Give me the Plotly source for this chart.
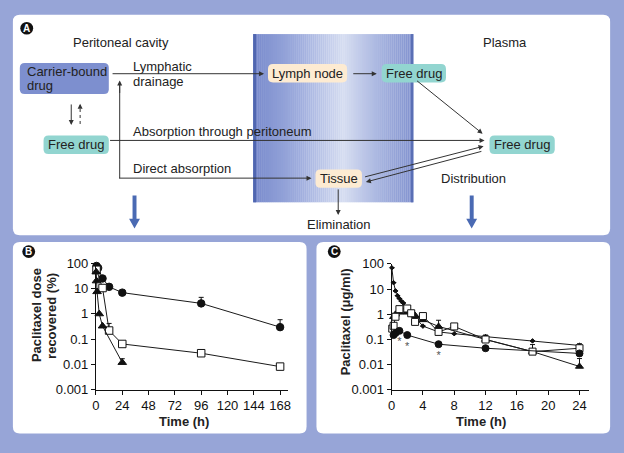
import plotly.graph_objects as go

W, H = 624, 453
FONT = "Liberation Sans, Arial, Helvetica, sans-serif"

# ---------------- data: panel B (dose recovered, %) ----------------
b_circle_t = [0.5, 2, 6, 12, 24, 96, 168]
b_circle_v = [78, 65, 25, 11.7, 6.9, 2.6, 0.3]
b_circle_err = [0, 0, 0, 0, 0, 1.9, 0.29]
b_square_t = [0.5, 6, 12, 24, 96, 168]
b_square_v = [55, 10.5, 0.22, 0.065, 0.028, 0.0083]
b_square_err = [0, 0, 0.2, 0, 0.006, 0]
b_tri_t = [0.25, 0.5, 1, 3, 6, 24]
b_tri_v = [45, 20, 7.5, 1.0, 0.33, 0.012]
b_tri_err = [0, 0, 0, 0, 0, 0.005]
b_xticks = [0, 24, 48, 72, 96, 120, 144, 168]

# ---------------- data: panel C (plasma, ug/ml) ----------------
c_dot_t = [0.03, 0.25, 0.5, 0.75, 1, 1.25, 1.5, 2, 3, 4, 6, 8, 12, 18, 24]
c_dot_v = [70, 18, 8.5, 5.5, 4.2, 3.3, 2.8, 1.5, 0.75, 0.34, 0.2, 0.17, 0.13, 0.088, 0.058]
c_dot_err = [0, 0, 0, 0, 0, 0, 0, 0, 0, 0, 0, 0, 0.02, 0, 0.01]
c_sq_t = [0.083, 0.25, 0.5, 1, 2, 2.5, 3, 4, 6, 8, 12, 18, 24]
c_sq_v = [0.27, 0.35, 0.8, 1.6, 1.7, 1.1, 0.5, 0.85, 0.2, 0.33, 0.1, 0.033, 0.045]
c_sq_err = [0, 0, 0, 0, 0, 0, 0, 0, 0, 0, 0.04, 0.03, 0]
c_tri_t = [0.25, 0.5, 1, 2, 3, 4, 6, 12, 18, 24]
c_tri_v = [0.8, 1.0, 1.2, 1.2, 0.9, 0.6, 0.33, 0.1, 0.033, 0.0085]
c_tri_err = [0, 0, 0, 0, 0, 0, 0.25, 0, 0, 0.009]
c_circ_t = [0.25, 0.5, 1, 2, 6, 12, 24]
c_circ_v = [0.15, 0.18, 0.22, 0.15, 0.065, 0.045, 0.028]
c_star_t = [1, 2, 6]
c_star_v = [0.075, 0.048, 0.021]
c_xticks = [0, 4, 8, 12, 16, 20, 24]

y_tickvals = [0.001, 0.01, 0.1, 1, 10, 100]
y_ticktext = ["0.001", "0.01", "0.1", "1", "10", "100"]

# ---------------- helpers (pixel -> paper) ----------------
def px(x):
    return x / W

def py(y):
    return 1 - y / H

shapes = []
annotations = []

def rrect(x0, y0, x1, y1, r, fill, layer="below"):
    def P(x, y):
        return f"{px(x):.5f},{py(y):.5f}"
    path = (f"M {P(x0 + r, y0)} L {P(x1 - r, y0)} Q {P(x1, y0)} {P(x1, y0 + r)} "
            f"L {P(x1, y1 - r)} Q {P(x1, y1)} {P(x1 - r, y1)} "
            f"L {P(x0 + r, y1)} Q {P(x0, y1)} {P(x0, y1 - r)} "
            f"L {P(x0, y0 + r)} Q {P(x0, y0)} {P(x0 + r, y0)} Z")
    shapes.append(dict(type="path", xref="paper", yref="paper", path=path,
                       fillcolor=fill, line=dict(width=0), layer=layer))

def poly(points, fill, layer="above"):
    path = "M " + " L ".join(f"{px(x):.5f},{py(y):.5f}" for x, y in points) + " Z"
    shapes.append(dict(type="path", xref="paper", yref="paper", path=path,
                       fillcolor=fill, line=dict(width=0), layer=layer))

def line(x0, y0, x1, y1, color="#333333", width=1, dash="solid"):
    shapes.append(dict(type="line", xref="paper", yref="paper",
                       x0=px(x0), y0=py(y0), x1=px(x1), y1=py(y1),
                       line=dict(color=color, width=width, dash=dash), layer="above"))

def arrow(x0, y0, x1, y1, color="#333333", width=1, size=1.0):
    annotations.append(dict(x=px(x1), y=py(y1), xref="paper", yref="paper",
                            ax=x0 - x1, ay=y0 - y1, axref="pixel", ayref="pixel",
                            text="", showarrow=True, arrowhead=2, arrowsize=size,
                            arrowwidth=width, arrowcolor=color, standoff=0, startstandoff=0))

def text(x, y, s, size=13, anchor="center", color="#222222", bold=False, angle=0):
    if bold:
        s = f"<b>{s}</b>"
    annotations.append(dict(x=px(x), y=py(y), xref="paper", yref="paper", text=s,
                            showarrow=False, xanchor=anchor, yanchor="middle",
                            textangle=angle, font=dict(size=size, color=color, family=FONT)))

def label_circle(x, y, letter):
    r = 6.5
    shapes.append(dict(type="circle", xref="paper", yref="paper",
                       x0=px(x - r), x1=px(x + r), y0=py(y + r), y1=py(y - r),
                       fillcolor="#111111", line=dict(width=0), layer="above"))
    annotations.append(dict(x=px(x), y=py(y), xref="paper", yref="paper",
                            text=f"<b>{letter}</b>", showarrow=False, xanchor="center",
                            yanchor="middle", font=dict(size=10, color="white", family=FONT)))

# ---------------- panels ----------------
rrect(9, 8, 613, 236, 7, "white")
rrect(9, 243, 306, 441, 7, "white")
rrect(316, 243, 613, 441, 7, "white")

# ---------------- membrane gradient ----------------
stops = [(252, (120, 138, 204)), (300, (160, 174, 222)), (343, (214, 221, 241)),
         (380, (168, 181, 224)), (414, (128, 145, 206))]

def grad(x):
    for (xa, ca), (xb, cb) in zip(stops[:-1], stops[1:]):
        if xa <= x <= xb:
            f = (x - xa) / (xb - xa)
            return tuple(round(ca[i] + f * (cb[i] - ca[i])) for i in range(3))
    return stops[-1][1]

x = 252.0
while x < 414:
    c = grad(x + 1)
    shapes.append(dict(type="rect", xref="paper", yref="paper",
                       x0=px(x), x1=px(min(x + 2.2, 414)), y0=py(202), y1=py(28),
                       fillcolor=f"rgb{c}", line=dict(width=0), layer="below"))
    x += 2
shapes.append(dict(type="rect", xref="paper", yref="paper", x0=px(252), x1=px(255),
                   y0=py(202), y1=py(28), fillcolor="#5066b0", line=dict(width=0), layer="below"))
shapes.append(dict(type="rect", xref="paper", yref="paper", x0=px(411.5), x1=px(414),
                   y0=py(202), y1=py(28), fillcolor="#5a6fb5", line=dict(width=0), layer="below"))

# ---------------- boxes ----------------
BLUE_BOX = "#7d8fcf"
TEAL = "#92d5d0"
PEACH = "#fdebd2"
rrect(16, 58, 106, 90, 5, BLUE_BOX, layer="above")
rrect(40, 133, 106, 152, 5, TEAL, layer="above")
rrect(267, 59, 347, 78, 5, PEACH, layer="above")
rrect(382, 59, 447, 78, 5, TEAL, layer="above")
rrect(491, 133, 557, 152, 5, TEAL, layer="above")
rrect(315, 168, 362, 187, 5, PEACH, layer="above")

text(21, 66.5, "Carrier-bound", anchor="left")
text(21, 81, "drug", anchor="left")
text(73, 142.5, "Free drug")
text(307, 68.5, "Lymph node")
text(414.5, 68.5, "Free drug")
text(524, 142.5, "Free drug")
text(338.5, 177.5, "Tissue")

text(118, 37, "Peritoneal cavity")
text(507, 37, "Plasma")
text(128, 62, "Lymphatic", anchor="left")
text(128, 77, "drainage", anchor="left")
text(128, 129, "Absorption through peritoneum", anchor="left")
text(128, 167, "Direct absorption", anchor="left")
text(475, 177, "Distribution")
text(339, 225, "Elimination")

# ---------------- connectors ----------------
arrow(110, 69, 263, 69)
arrow(352, 69, 377, 69)
line(117, 177, 117, 80)
arrow(117, 90, 117, 76)
arrow(117, 177, 311, 177)
arrow(110, 138, 486, 138)
arrow(417, 77, 484, 131)
arrow(365, 175, 485, 144)
arrow(483, 150, 366, 181)
arrow(338, 188, 338, 215)
arrow(68, 100, 68, 122)
line(77, 121, 77, 104, dash="dot")
arrow(77, 106, 77, 100)

# ---------------- big blue arrows ----------------
ARROW_BLUE = "#4a6ab3"
for cx in (132, 473):
    poly([(cx - 2, 195), (cx + 2, 195), (cx + 2, 219), (cx + 5.5, 219), (cx, 229),
          (cx - 5.5, 219), (cx - 2, 219)], ARROW_BLUE)

label_circle(23, 22, "A")
label_circle(25, 253, "B")
label_circle(334, 253, "C")

# ---------------- traces ----------------
LINE = dict(color="#1a1a1a", width=1)
fig = go.Figure()

def series(xs, ys, err, symbol, size, xa, ya, filled=True):
    fig.add_trace(go.Scatter(
        x=xs, y=ys, mode="lines+markers", xaxis=xa, yaxis=ya, line=LINE,
        cliponaxis=False, showlegend=False,
        marker=dict(symbol=symbol, size=size, color="#111111" if filled else "white",
                    line=dict(color="#111111", width=1)),
        error_y=dict(type="data", symmetric=False, array=err, arrayminus=[0] * len(err),
                     color="#111111", thickness=1, width=2.5)))

series(b_circle_t, b_circle_v, b_circle_err, "circle", 7.5, "x", "y")
series(b_square_t, b_square_v, b_square_err, "square", 7.5, "x", "y", filled=False)
series(b_tri_t, b_tri_v, b_tri_err, "triangle-up", 7.5, "x", "y")

series(c_dot_t, c_dot_v, c_dot_err, "diamond", 3.5, "x2", "y2")
series(c_tri_t, c_tri_v, c_tri_err, "triangle-up", 7, "x2", "y2")
series(c_sq_t, c_sq_v, c_sq_err, "square", 7, "x2", "y2", filled=False)
series(c_circ_t, c_circ_v, [0] * len(c_circ_t), "circle", 7, "x2", "y2")

fig.add_trace(go.Scatter(x=c_star_t, y=c_star_v, mode="text", text=["*"] * len(c_star_t),
                         textfont=dict(size=11, color="#555555", family=FONT),
                         xaxis="x2", yaxis="y2", showlegend=False, cliponaxis=False))

# axis titles
text(182, 429, "Time (h)", size=13, bold=True)
text(482, 429, "Time (h)", size=13, bold=True)
text(33, 319, "Paclitaxel dose", size=13, bold=True, angle=-90)
text(48, 319, "recovered (%)", size=13, bold=True, angle=-90)
text(345, 326, "Paclitaxel (μg/ml)", size=13, bold=True, angle=-90)

axis_common = dict(showline=True, linecolor="#111111", linewidth=1, ticks="outside",
                   ticklen=4, tickcolor="#111111", tickwidth=1, showgrid=False,
                   zeroline=False, tickfont=dict(size=13, color="#111111", family=FONT))

fig.update_layout(
    width=W, height=H, margin=dict(l=0, r=0, t=0, b=0),
    paper_bgcolor="#97a5d7", plot_bgcolor="rgba(0,0,0,0)",
    shapes=shapes, annotations=annotations, showlegend=False,
    xaxis=dict(domain=[px(93), px(287)], range=[0, 175], anchor="y",
               tickvals=b_xticks, **axis_common),
    yaxis=dict(domain=[py(396), py(265)], type="log", range=[-3, 2], anchor="x",
               tickvals=y_tickvals, ticktext=y_ticktext, **axis_common),
    xaxis2=dict(domain=[px(392), px(592)], range=[0, 25.26], anchor="y2",
                tickvals=c_xticks, **axis_common),
    yaxis2=dict(domain=[py(396), py(265.7)], type="log", range=[-3, 2], anchor="x2",
                tickvals=y_tickvals, ticktext=y_ticktext, **axis_common),
)

fig.write_html("out.html", config={"displayModeBar": False},
               post_script="document.body.style.margin='0';document.body.style.overflow='hidden';")
